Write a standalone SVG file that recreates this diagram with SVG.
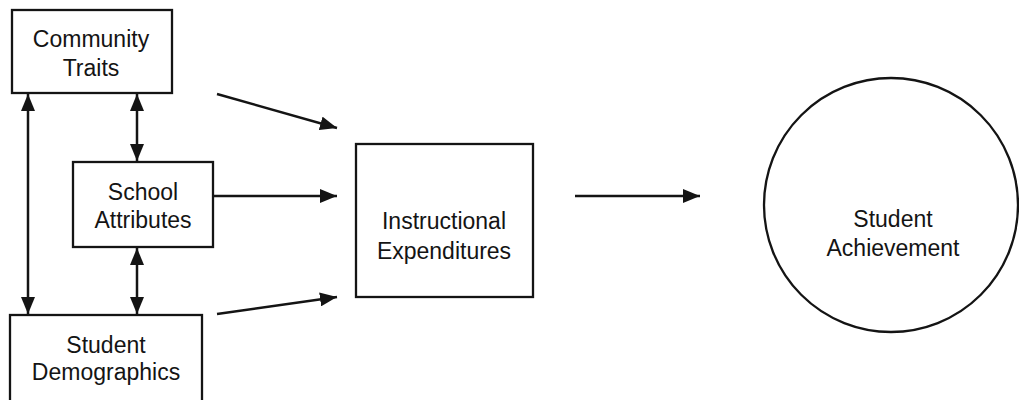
<svg xmlns="http://www.w3.org/2000/svg" width="1019" height="400" viewBox="0 0 1019 400">
<style>
.box{fill:#fff;stroke:#141414;stroke-width:2.3}
.lbl{font-family:"Liberation Sans",Arial,sans-serif;font-size:23px;fill:#141414;text-anchor:middle}
.con{stroke:#141414;stroke-width:2.5;fill:none}
</style>
<defs>
<marker id="ah" markerUnits="userSpaceOnUse" markerWidth="17" markerHeight="14" viewBox="0 0 17 14" refX="17" refY="7" orient="auto-start-reverse">
<path d="M0,0 L17,7 L0,14 z" fill="#141414"/>
</marker>
</defs>
<rect width="1019" height="400" fill="#fff"/>
<g id="connectors">
<line class="con" x1="28" y1="94" x2="28" y2="314" marker-start="url(#ah)" marker-end="url(#ah)"/>
<line class="con" x1="137" y1="94" x2="137" y2="161" marker-start="url(#ah)" marker-end="url(#ah)"/>
<line class="con" x1="137" y1="248" x2="137" y2="314" marker-start="url(#ah)" marker-end="url(#ah)"/>
<line class="con" x1="217" y1="94" x2="337" y2="128" marker-end="url(#ah)"/>
<line class="con" x1="214" y1="196" x2="337" y2="196" marker-end="url(#ah)"/>
<line class="con" x1="217" y1="314" x2="337" y2="297" marker-end="url(#ah)"/>
<line class="con" x1="575" y1="196" x2="700" y2="196" marker-end="url(#ah)"/>
</g>
<g id="community-traits">
<rect class="box" x="12" y="10" width="160" height="83"/>
<text class="lbl" x="91" y="47">Community</text>
<text class="lbl" x="91" y="76">Traits</text>
</g>
<g id="school-attributes">
<rect class="box" x="73" y="162" width="140" height="85"/>
<text class="lbl" x="143" y="200">School</text>
<text class="lbl" x="143" y="228">Attributes</text>
</g>
<g id="student-demographics">
<rect class="box" x="10" y="315" width="192" height="95"/>
<text class="lbl" x="106" y="353">Student</text>
<text class="lbl" x="106" y="380">Demographics</text>
</g>
<g id="instructional-expenditures">
<rect class="box" x="356" y="144" width="177" height="153"/>
<text class="lbl" x="444" y="229">Instructional</text>
<text class="lbl" x="444" y="259">Expenditures</text>
</g>
<g id="student-achievement">
<circle class="box" cx="891" cy="205" r="127"/>
<text class="lbl" x="893" y="227">Student</text>
<text class="lbl" x="893" y="256">Achievement</text>
</g>
</svg>
